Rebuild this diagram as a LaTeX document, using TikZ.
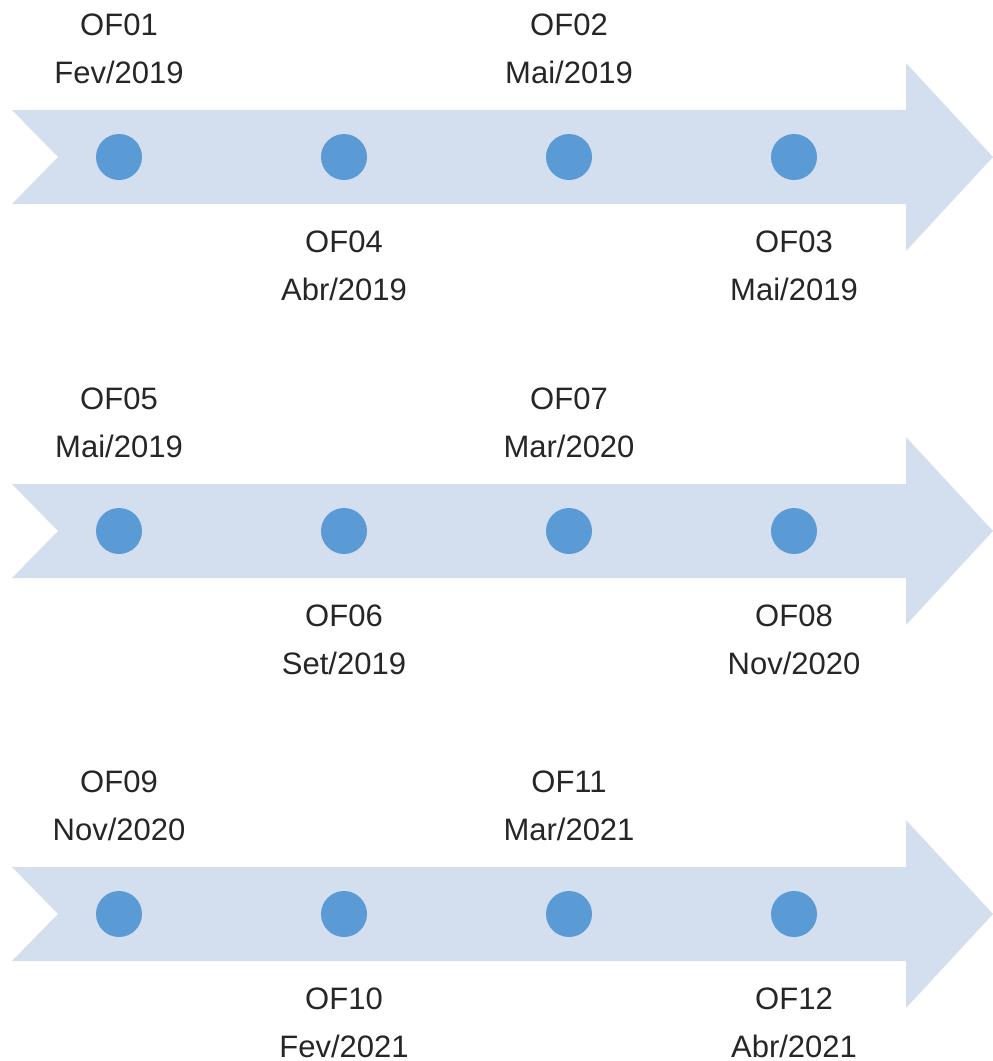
\documentclass[tikz,border=0pt]{standalone}
\usepackage{fontspec}
\setmainfont{Liberation Sans}
\definecolor{bandblue}{RGB}{211,222,239}
\definecolor{dotblue}{RGB}{91,155,213}
\begin{document}
\begin{tikzpicture}[x=1pt,y=-1pt,
  band/.style={fill=bandblue,draw=none},
  dot/.style={circle,fill=dotblue,draw=none,minimum size=46pt,inner sep=0pt},
  lbl/.style={anchor=base,inner sep=0pt,font=\fontsize{31}{37}\selectfont,text=black!85}]
\useasboundingbox (0,0) rectangle (993,1061);
\foreach \r/\cy in {1/157,2/531,3/914}{
  \fill[band] (12,\cy-47) -- (906,\cy-47) -- (906,\cy-94) -- (993,\cy) -- (906,\cy+94)
     -- (906,\cy+47) -- (12,\cy+47) -- (58,\cy) -- cycle;
  \foreach \c/\x in {1/119,2/344,3/569,4/794}{
    \node[dot] (d\r\c) at (\x,\cy) {};
  }
}
% row 1
\node[lbl] (t1a) at (119,35) {OF01};
\node[lbl] (t1b) at (119,83) {Fev/2019};
\node[lbl] (t2a) at (569,35) {OF02};
\node[lbl] (t2b) at (569,83) {Mai/2019};
\node[lbl] (t4a) at (344,252) {OF04};
\node[lbl] (t4b) at (344,300) {Abr/2019};
\node[lbl] (t3a) at (794,252) {OF03};
\node[lbl] (t3b) at (794,300) {Mai/2019};
% row 2
\node[lbl] (t5a) at (119,409) {OF05};
\node[lbl] (t5b) at (119,457) {Mai/2019};
\node[lbl] (t7a) at (569,409) {OF07};
\node[lbl] (t7b) at (569,457) {Mar/2020};
\node[lbl] (t6a) at (344,626) {OF06};
\node[lbl] (t6b) at (344,674) {Set/2019};
\node[lbl] (t8a) at (794,626) {OF08};
\node[lbl] (t8b) at (794,674) {Nov/2020};
% row 3
\node[lbl] (t9a) at (119,792) {OF09};
\node[lbl] (t9b) at (119,840) {Nov/2020};
\node[lbl] (t11a) at (569,792) {OF11};
\node[lbl] (t11b) at (569,840) {Mar/2021};
\node[lbl] (t10a) at (344,1009) {OF10};
\node[lbl] (t10b) at (344,1057) {Fev/2021};
\node[lbl] (t12a) at (794,1009) {OF12};
\node[lbl] (t12b) at (794,1057) {Abr/2021};
\end{tikzpicture}
\end{document}
